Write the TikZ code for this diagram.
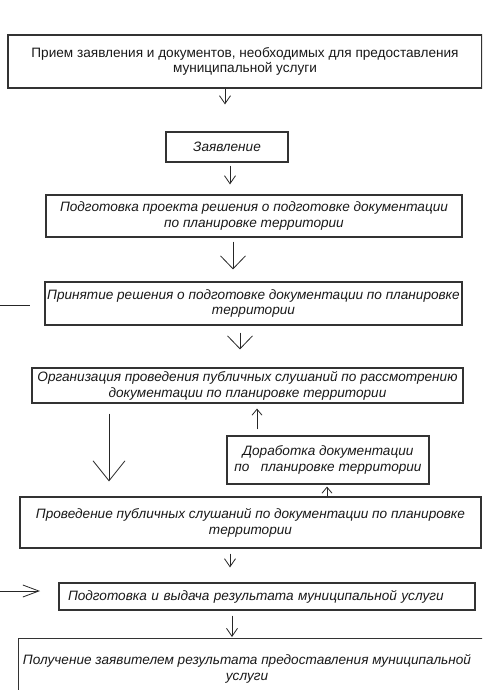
\documentclass[tikz,border=0pt]{standalone}
\usepackage{fontspec}
\setmainfont{Liberation Sans}
\usetikzlibrary{arrows.meta}
\begin{document}
\begin{tikzpicture}[x=1pt,y=-1pt,
  box/.style={draw=black!80, line width=1.2pt, rectangle, inner sep=0pt, align=center,
    font=\fontsize{13.6}{15.8}\selectfont\itshape, text=black!90},
  plain/.style={font=\fontsize{13.6}{15.8}\selectfont\upshape},
  txt/.style={inner sep=0pt, align=center, font=\fontsize{13.6}{15.8}\selectfont\itshape, text=black!90},
  conn/.style={draw=black!85, line width=0.8pt},
  tipS/.style={-{Straight Barb[length=8pt,width=11pt]}},
  tipM/.style={-{Straight Barb[length=13pt,width=25pt]}},
  tipL/.style={-{Straight Barb[length=20pt,width=32pt]}},
  tipU/.style={-{Straight Barb[length=6pt,width=10pt]}},
  tipH/.style={-{Straight Barb[length=16pt,width=12pt]}},
]
\clip (0,0) rectangle (482,690);
\fill[white] (0,0) rectangle (482,690);

% boxes
\node[box, plain, minimum width=474pt, minimum height=53pt] (b1) at (245,61.5)
  {Прием заявления и документов, необходимых для предоставления\\муниципальной услуги};
\node[box, minimum width=122pt, minimum height=30pt] (b2) at (227,147) {Заявление};
\node[box, minimum width=416pt, minimum height=42pt] (b3) at (254,216)
  {Подготовка проекта решения о подготовке документации\\по планировке территории};
\node[box, minimum width=417pt, minimum height=43pt] (b4) at (253.5,303.5)
  {Принятие решения о подготовке документации по планировке\\территории};
\node[box, minimum width=431pt, minimum height=35pt] (b5) at (247.5,385.5)
  {Организация проведения публичных слушаний по рассмотрению\\документации по планировке территории};
\node[box, minimum width=202pt, minimum height=48pt] (b6) at (328,460)
  {Доработка документации\\по\ \ \ планировке территории};
\node[box, minimum width=461pt, minimum height=51pt] (b7) at (250.5,522.5)
  {Проведение публичных слушаний по документации по планировке\\территории};
\node[box, text width=398pt, align=left, inner xsep=9pt, minimum height=27pt] (b8) at (267,596.5)
  {Подготовка и выдача результата муниципальной услуги};
\node[box, minimum width=480pt, minimum height=70pt, anchor=north west] (b9) at (18,638) {};
\node[txt] (b9t) at (247,669)
  {Получение заявителем результата предоставления муниципальной\\услуги};

% helper coordinates for arrow x positions
\coordinate (x225) at (225,0);
\coordinate (x230) at (230,0);
\coordinate (x233) at (233,0);
\coordinate (x240) at (240,0);
\coordinate (x109) at (109,0);
\coordinate (x257) at (257,0);
\coordinate (x327) at (327,0);
\coordinate (x232) at (232,0);

% connectors
\draw[conn, tipS, shorten >=27pt] (b1.south -| x225) -- (b2.north -| x225);
\draw[conn, tipS, shorten <=3pt, shorten >=10pt] (b2.south -| x230) -- (b3.north -| x230);
\draw[conn, tipM, shorten <=4pt, shorten >=12pt] (b3.south -| x233) -- (b4.north -| x233);
\draw[conn, tipM, shorten <=7pt, shorten >=18pt] (b4.south -| x240) -- (b5.north -| x240);
\draw[conn, tipL, shorten <=10pt, shorten >=15pt] (b5.south -| x109) -- (b7.north -| x109);
\draw[conn, tipU, shorten <=6pt, shorten >=5pt] (b6.north -| x257) -- (b5.south -| x257);
\draw[conn, tipU, shorten >=2pt] (b7.north -| x327) -- (b6.south -| x327);
\draw[conn, tipS, shorten <=5pt, shorten >=15pt] (b7.south -| x230) -- (b8.north -| x230);
\draw[conn, tipS, shorten <=5pt, shorten >=1pt] (b8.south -| x232) -- (b9.north -| x232);

\coordinate (la) at (0,305);
\coordinate (lb) at (30,305);
\draw[conn] (la) -- (lb);
\coordinate (ra) at (0,591);
\coordinate (rb) at (40,591);
\draw[conn, tipH] (ra) -- (rb);
\end{tikzpicture}
\end{document}
